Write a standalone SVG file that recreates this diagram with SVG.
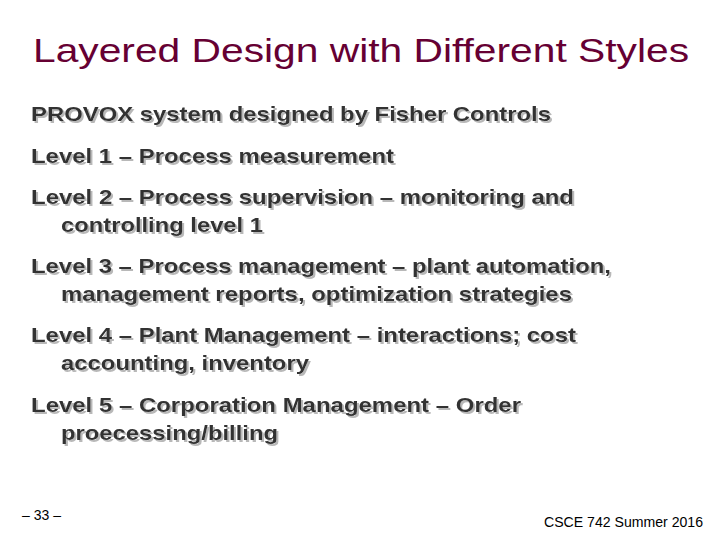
<svg xmlns="http://www.w3.org/2000/svg" width="720" height="540" viewBox="0 0 720 540">
<defs>
<filter id="sh" x="-5%" y="-20%" width="110%" height="150%">
<feDropShadow dx="2" dy="2" stdDeviation="0.6" flood-color="#b8b8b8"/>
</filter>
</defs>
<style>
.t{font-family:"Liberation Sans",Arial,sans-serif;font-size:34px;fill:#660033}
.b{font-family:"Liberation Sans",Arial,sans-serif;font-size:21px;font-weight:bold;fill:#333333}
.f{font-family:"Liberation Sans",Arial,sans-serif;font-size:14px;fill:#000}
</style>
<rect width="720" height="540" fill="#fff"/>
<text class="t" x="361" y="62" text-anchor="middle" textLength="656" lengthAdjust="spacingAndGlyphs">Layered Design with Different Styles</text>
<g filter="url(#sh)">
<text class="b" x="31" y="121" textLength="520" lengthAdjust="spacingAndGlyphs">PROVOX system designed by Fisher Controls</text>
<text class="b" x="31" y="163" textLength="363" lengthAdjust="spacingAndGlyphs">Level 1 – Process measurement</text>
<text class="b" x="31" y="204" textLength="543" lengthAdjust="spacingAndGlyphs">Level 2 – Process supervision – monitoring and</text>
<text class="b" x="61" y="232" textLength="202" lengthAdjust="spacingAndGlyphs">controlling level 1</text>
<text class="b" x="31" y="273" textLength="580" lengthAdjust="spacingAndGlyphs">Level 3 – Process management – plant automation,</text>
<text class="b" x="61" y="301" textLength="511" lengthAdjust="spacingAndGlyphs">management reports, optimization strategies</text>
<text class="b" x="31" y="342" textLength="545" lengthAdjust="spacingAndGlyphs">Level 4 – Plant Management – interactions; cost</text>
<text class="b" x="61" y="370" textLength="248" lengthAdjust="spacingAndGlyphs">accounting, inventory</text>
<text class="b" x="31" y="412" textLength="490" lengthAdjust="spacingAndGlyphs">Level 5 – Corporation Management – Order</text>
<text class="b" x="61" y="440" textLength="217" lengthAdjust="spacingAndGlyphs">proecessing/billing</text>
</g>
<text class="f" x="22" y="520">– 33 –</text>
<text class="f" x="703" y="527" text-anchor="end" textLength="159" lengthAdjust="spacingAndGlyphs">CSCE 742 Summer 2016</text>
</svg>
